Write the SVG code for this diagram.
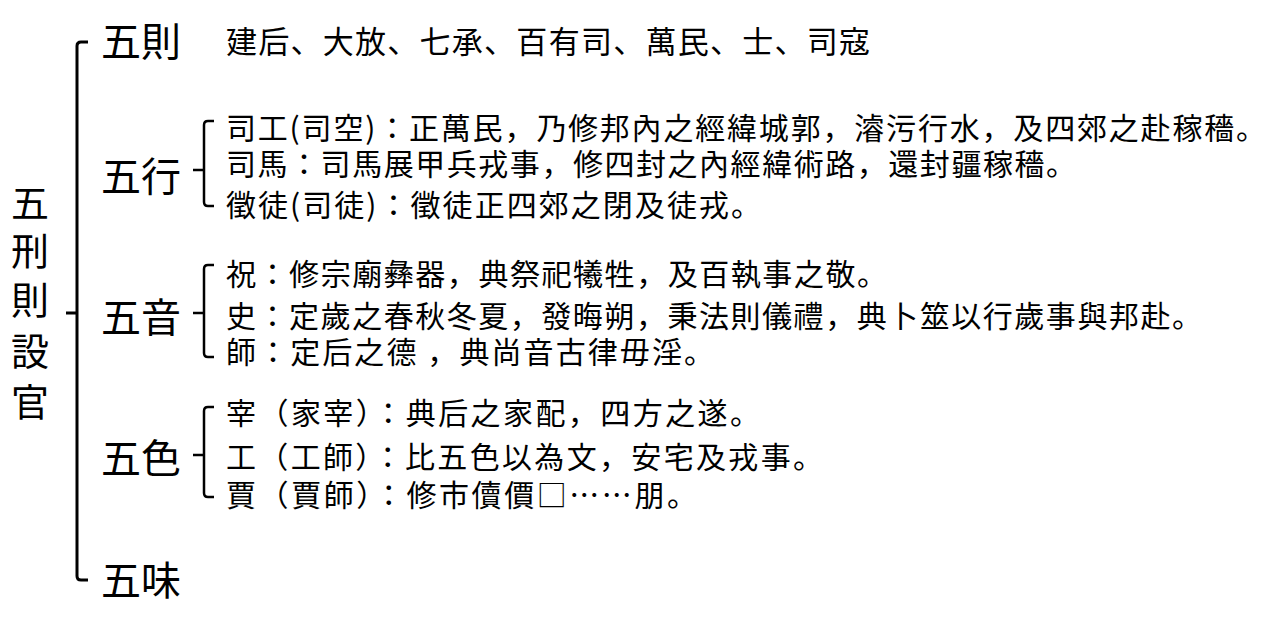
<svg xmlns="http://www.w3.org/2000/svg" width="1271" height="618" viewBox="0 0 1271 618">
<style>
text{font-family:"Noto Sans CJK JP","Noto Sans CJK TC",sans-serif;fill:#000}
.t{font-size:38px}
.l{font-size:40px}
.s{font-size:30px}
.b{fill:none;stroke:#000;stroke-width:2.5;stroke-linejoin:round;stroke-linecap:butt}
</style>
<rect width="1271" height="618" fill="#fff"/>
<g id="connectors">
<path class="b" style="stroke-width:3" d="M88 42 L81 42 Q77 42 77 46 L77 576 Q77 580 81 580 L88 580 M66 313 L77 313"/>
<path class="b" d="M214 121 L208 121 Q204 121 204 125 L204 202 Q204 206 208 206 L214 206 M193 170 L204 170"/>
<path class="b" d="M214 265 L208 265 Q204 265 204 269 L204 353 Q204 357 208 357 L214 357 M193 313 L204 313"/>
<path class="b" d="M214 407 L208 407 Q204 407 204 411 L204 493 Q204 497 208 497 L214 497 M193 455 L204 455"/>
</g>
<g id="root">
<text class="t" text-anchor="middle"><tspan x="30" y="217">五</tspan><tspan x="30" y="265">刑</tspan><tspan x="30" y="314">則</tspan><tspan x="30" y="365">設</tspan><tspan x="30" y="416">官</tspan></text>
</g>
<g id="wuze">
<text class="l" x="101" y="56">五則</text>
<text class="s" style="font-size:31px" x="226" y="53" textLength="644" lengthAdjust="spacing">建后、大放、七承、百有司、萬民、士、司寇</text>
</g>
<g id="wuxing">
<text class="l" x="101" y="191">五行</text>
<text class="s" x="226" y="139" textLength="1040" lengthAdjust="spacing">司工(司空)：正萬民，乃修邦內之經緯城郭，濬污行水，及四郊之赴稼穡。</text>
<text class="s" x="226" y="175" textLength="850" lengthAdjust="spacing">司馬：司馬展甲兵戎事，修四封之內經緯術路，還封疆稼穡。</text>
<text class="s" x="226" y="216" textLength="535" lengthAdjust="spacing">徵徒(司徒)：徵徒正四郊之閉及徒戎。</text>
</g>
<g id="wuyin">
<text class="l" x="101" y="332">五音</text>
<text class="s" x="226" y="285" textLength="661" lengthAdjust="spacing">祝：修宗廟彝器，典祭祀犧牲，及百執事之敬。</text>
<text class="s" x="226" y="327" textLength="976" lengthAdjust="spacing">史：定歲之春秋冬夏，發晦朔，秉法則儀禮，典卜筮以行歲事與邦赴。</text>
<text class="s" x="226" y="363" textLength="488" lengthAdjust="spacing">師：定后之德 ，典尚音古律毋淫。</text>
</g>
<g id="wuse">
<text class="l" x="101" y="473">五色</text>
<text class="s" x="226" y="424" textLength="534" lengthAdjust="spacing">宰（家宰）：典后之家配，四方之遂。</text>
<text class="s" x="226" y="468" textLength="597" lengthAdjust="spacing">工（工師）：比五色以為文，安宅及戎事。</text>
<text class="s" x="226" y="506" textLength="471" lengthAdjust="spacing">賈（賈師）：修市儥價□……朋。</text>
</g>
<g id="wuwei">
<text class="l" x="101" y="595">五味</text>
</g>
</svg>
